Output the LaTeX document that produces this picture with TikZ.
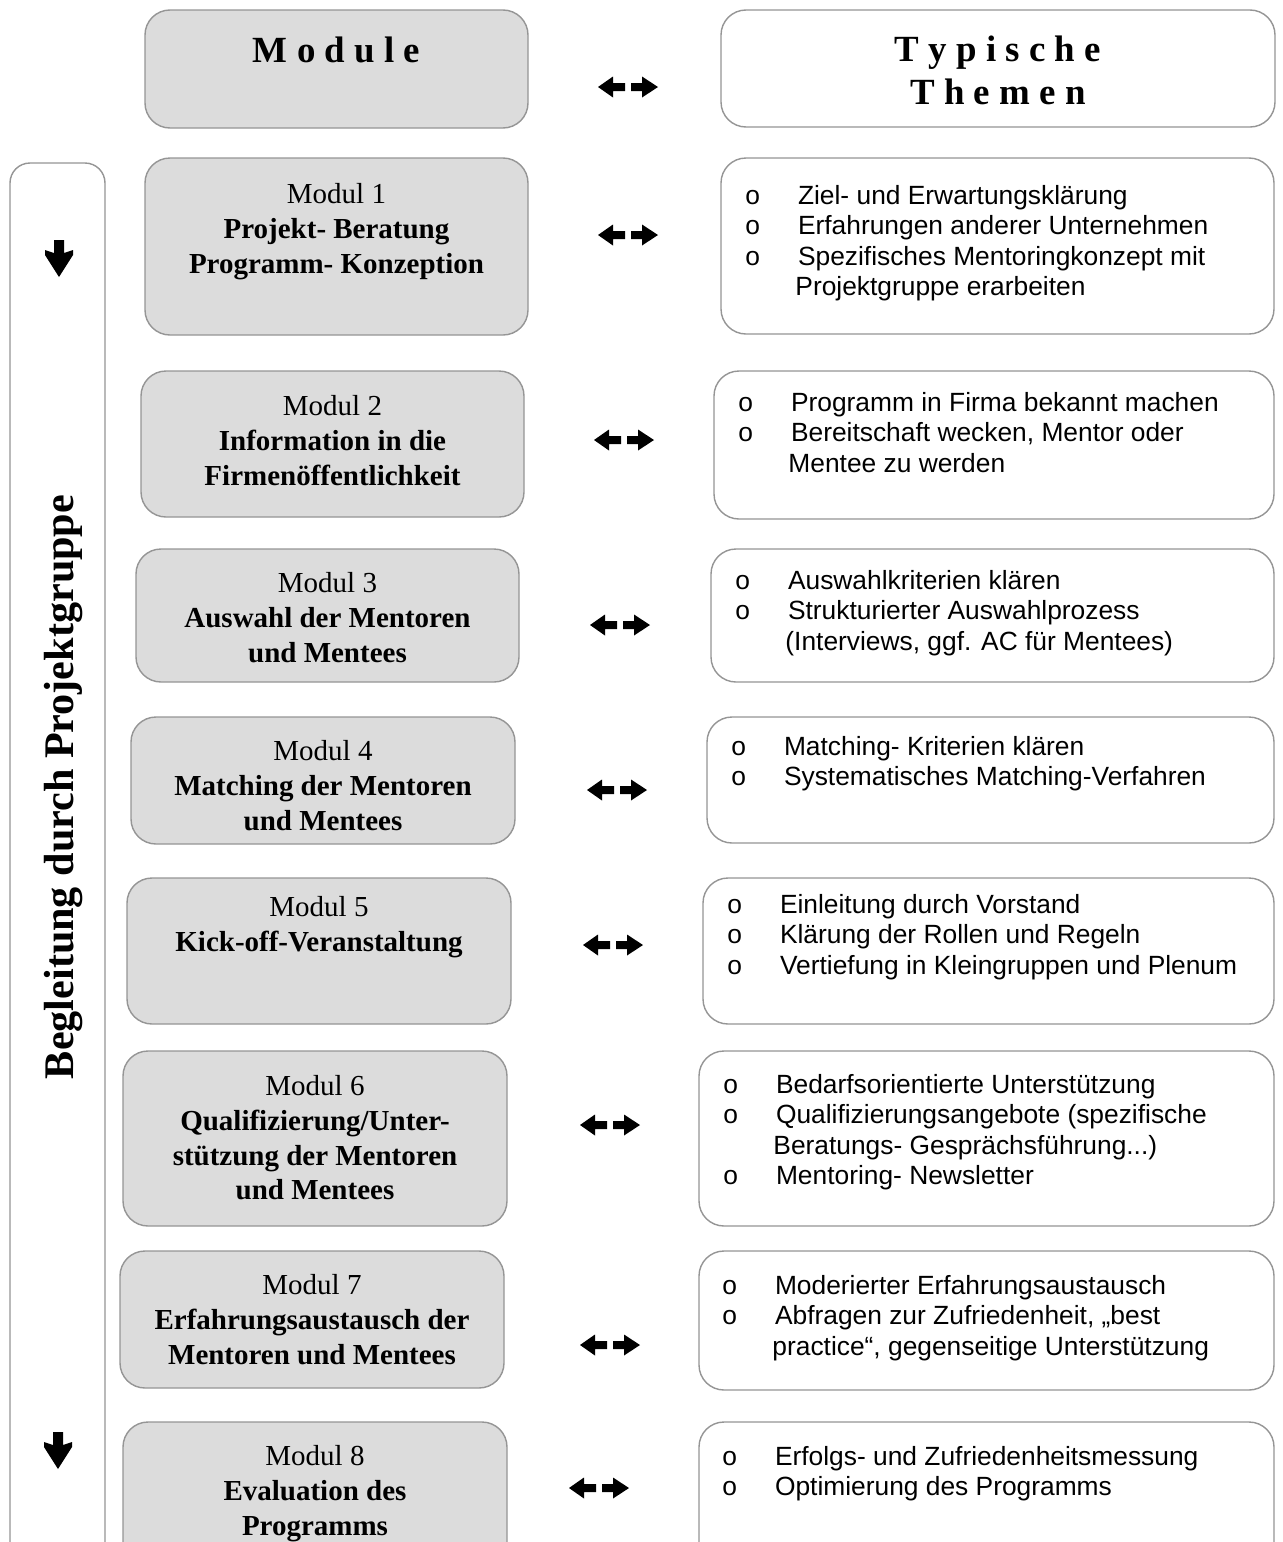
\documentclass[tikz,border=0pt]{standalone}
\usepackage{fontspec}
\setmainfont{Liberation Serif}
\newfontfamily\themefont{Liberation Sans}
\usepackage{tikz}
\usetikzlibrary{fit}
\definecolor{boxgray}{HTML}{DCDCDC}
\definecolor{linegray}{HTML}{959595}
\tikzstyle{modbox}=[draw=linegray, line width=0.8pt, fill=boxgray, rounded corners=0.5cm, inner sep=0pt]
\tikzstyle{themebox}=[draw=linegray, line width=0.8pt, fill=white, rounded corners=0.5cm, inner sep=0pt]
\tikzstyle{sidebox}=[draw=linegray, line width=0.8pt, fill=white, rounded corners=0.4cm, inner sep=0pt]
\tikzstyle{headtext}=[inner sep=0pt, align=center, font=\fontsize{21}{24}\selectfont\bfseries]
\tikzstyle{modtext}=[inner sep=0pt, align=center, font=\fontsize{16.5}{19.8}\selectfont]
\tikzstyle{themetext}=[inner sep=0pt, align=left, font=\themefont\fontsize{15}{17.3}\selectfont]
\tikzstyle{sidetext}=[inner sep=0pt, font=\fontsize{24}{28}\selectfont\bfseries]
\newcommand\bulpt{\makebox[30pt][l]{o}}
\newcommand\contpt{\hspace*{28.5pt}}
\tikzset{
  twoway/.pic={
    \fill (0,0) -- (15,-10.5) -- (15,-4) -- (27,-4) -- (27,4) -- (15,4) -- (15,10.5) -- cycle;
    \fill (33,-4) -- (44,-4) -- (44,-10.5) -- (60,0) -- (44,10.5) -- (44,4) -- (33,4) -- cycle;
  },
  downarrow/.pic={
    \fill (-5,-18) -- (5,-18) -- (5,-5) -- (14,-8) -- (14,-3) -- (0,19) -- (-14,-3) -- (-14,-8) -- (-5,-5) -- cycle;
  }
}
\begin{document}
\begin{tikzpicture}[x=0.02cm, y=-0.02cm]
\useasboundingbox (0,0) rectangle (1282,1542);
\clip (0,0) rectangle (1282,1542);

% side bar
\node[sidebox, fit={(10,163) (105,1620)}] (side) {};
\node[sidetext, rotate=90, anchor=base] (sidelbl) at (73,787) {Begleitung durch Projektgruppe};
\pic at (59,258) {downarrow};
\pic at (58,1450) {downarrow};

% headers
\node[modbox, fit={(145,10) (528,128)}] (mhead) {};
\node[themebox, fit={(721,10) (1275,127)}] (thead) {};
\node[headtext, anchor=north] (mheadt) at (336.5,37) {M o d u l e};
\node[headtext, anchor=north] (theadt) at (998,36) {T y p i s c h e\\T h e m e n};

% module boxes
\node[modbox, fit={(145,158) (528,335)}] (m1) {};
\node[modbox, fit={(141,371) (524,517)}] (m2) {};
\node[modbox, fit={(136,549) (519,682)}] (m3) {};
\node[modbox, fit={(131,717) (515,844)}] (m4) {};
\node[modbox, fit={(127,878) (511,1024)}] (m5) {};
\node[modbox, fit={(123,1051) (507,1226)}] (m6) {};
\node[modbox, fit={(120,1251) (504,1388)}] (m7) {};
\node[modbox, fit={(123,1422) (507,1620)}] (m8) {};

\node[modtext, anchor=north] (m1t) at (336.5,183) {Modul 1\\\textbf{Projekt- Beratung}\\\textbf{Programm- Konzeption}};
\node[modtext, anchor=north] (m2t) at (332.5,395) {Modul 2\\\textbf{Information in die}\\\textbf{Firmenöffentlichkeit}};
\node[modtext, anchor=north] (m3t) at (327.5,572) {Modul 3\\\textbf{Auswahl der Mentoren}\\\textbf{und Mentees}};
\node[modtext, anchor=north] (m4t) at (323,740) {Modul 4\\\textbf{Matching der Mentoren}\\\textbf{und Mentees}};
\node[modtext, anchor=north] (m5t) at (319,896) {Modul 5\\\textbf{Kick-off-Veranstaltung}};
\node[modtext, anchor=north] (m6t) at (315,1075) {Modul 6\\\textbf{Qualifizierung/Unter-}\\\textbf{stützung der Mentoren}\\\textbf{und Mentees}};
\node[modtext, anchor=north] (m7t) at (312,1274) {Modul 7\\\textbf{Erfahrungsaustausch der}\\\textbf{Mentoren und Mentees}};
\node[modtext, anchor=north] (m8t) at (315,1445) {Modul 8\\\textbf{Evaluation des}\\\textbf{Programms}};

% theme boxes
\node[themebox, fit={(721,158) (1274,334)}] (r1) {};
\node[themebox, fit={(714,371) (1274,519)}] (r2) {};
\node[themebox, fit={(711,549) (1274,682)}] (r3) {};
\node[themebox, fit={(707,717) (1274,843)}] (r4) {};
\node[themebox, fit={(703,878) (1274,1024)}] (r5) {};
\node[themebox, fit={(699,1051) (1274,1226)}] (r6) {};
\node[themebox, fit={(699,1251) (1274,1390)}] (r7) {};
\node[themebox, fit={(699,1422) (1274,1620)}] (r8) {};

\node[themetext, anchor=north west] (r1t) at (745,185) {\bulpt Ziel- und Erwartungsklärung\\\bulpt Erfahrungen anderer Unternehmen\\\bulpt Spezifisches Mentoringkonzept mit\\\contpt Projektgruppe erarbeiten};
\node[themetext, anchor=north west] (r2t) at (738,392) {\bulpt Programm in Firma bekannt machen\\\bulpt Bereitschaft wecken, Mentor oder\\\contpt Mentee zu werden};
\node[themetext, anchor=north west] (r3t) at (735,570) {\bulpt Auswahlkriterien klären\\\bulpt Strukturierter Auswahlprozess\\\contpt (Interviews, ggf. AC für Mentees)};
\node[themetext, anchor=north west] (r4t) at (731,736) {\bulpt Matching- Kriterien klären\\\bulpt Systematisches Matching-Verfahren};
\node[themetext, anchor=north west] (r5t) at (727,894) {\bulpt Einleitung durch Vorstand\\\bulpt Klärung der Rollen und Regeln\\\bulpt Vertiefung in Kleingruppen und Plenum};
\node[themetext, anchor=north west] (r6t) at (723,1074) {\bulpt Bedarfsorientierte Unterstützung\\\bulpt Qualifizierungsangebote (spezifische\\\contpt Beratungs- Gesprächsführung...)\\\bulpt Mentoring- Newsletter};
\node[themetext, anchor=north west] (r7t) at (722,1275) {\bulpt Moderierter Erfahrungsaustausch\\\bulpt Abfragen zur Zufriedenheit, „best\\\contpt practice“, gegenseitige Unterstützung};
\node[themetext, anchor=north west] (r8t) at (722,1446) {\bulpt Erfolgs- und Zufriedenheitsmessung\\\bulpt Optimierung des Programms};

% double arrows between the columns
\foreach \ax/\ay in {598/87, 598/235, 594/440, 590/625, 587/790, 583/945, 580/1125, 580/1345, 569/1488}
  \pic at (\ax,\ay) {twoway};
\end{tikzpicture}
\end{document}
